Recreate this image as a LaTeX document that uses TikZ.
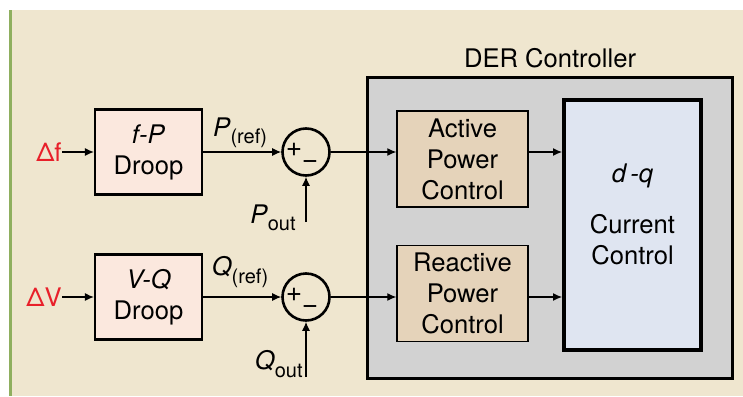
\documentclass[tikz,border=0pt]{standalone}
\usepackage{fontspec}
\setmainfont{TeX Gyre Heros}
\usepackage{xcolor}
\usetikzlibrary{arrows.meta}
\definecolor{PanelBeige}{HTML}{EFE6CF}
\definecolor{PanelGreen}{HTML}{8FAF5F}
\definecolor{DroopPink}{HTML}{FBE8DE}
\definecolor{CtrlGray}{HTML}{D2D2D2}
\definecolor{PowerTan}{HTML}{E5D3BA}
\definecolor{CurrentBlue}{HTML}{DFE5F1}
\definecolor{SignalRed}{HTML}{E8202A}
\newcommand{\sigsub}[2]{\textit{#1}\raisebox{-0.55ex}{\fontsize{10}{12}\selectfont #2}}

\begin{document}
\begin{tikzpicture}[x=0.5pt,y=-0.5pt,
    every node/.style={font=\fontsize{12.8}{15.5}\selectfont,align=center,inner sep=0pt},
    droopbox/.style={draw,line width=1.1pt,fill=DroopPink,minimum width=53.5pt,minimum height=42.5pt},
    powerbox/.style={draw,line width=0.7pt,fill=PowerTan,minimum width=65.5pt,minimum height=48pt},
    sumjunction/.style={draw,circle,line width=1.3pt,minimum size=23.5pt},
    signsym/.style={font=\fontsize{14}{15}\selectfont},
    signal/.style={-{Latex[length=4.5pt,width=4pt]},line width=0.6pt}]

    \useasboundingbox (0,0) rectangle (743,396);
    \fill[PanelBeige] (10,10) rectangle (743,396);
    \draw[PanelGreen,line width=1.5pt] (10,10) -- (10,396);

    \node[draw,line width=1.5pt,fill=CtrlGray,minimum width=182.5pt,minimum height=150.5pt] (der) at (549.5,227.5) {};
    \node (dertitle) at (550,58) {DER Controller};

    \node[droopbox] (fp) at (148.5,152) {\textit{f-P}\\Droop};
    \node[droopbox] (vq) at (148.5,297) {\textit{V-Q}\\Droop};

    \node[text=SignalRed,anchor=east] (df) at (62,152) {Δf};
    \node[text=SignalRed,anchor=east] (dv) at (62,297) {ΔV};

    \node[sumjunction] (sp) at (306,152) {};
    \node[sumjunction] (sq) at (306,297) {};
    \node[signsym] (spplus) at (294,150) {+};
    \node[signsym] (spminus) at (310,165) {−};
    \node[signsym] (sqplus) at (294,295) {+};
    \node[signsym] (sqminus) at (310,310) {−};

    \node (pref) at (240,133) {\sigsub{P}{(ref)}};
    \node (qref) at (240,272) {\sigsub{Q}{(ref)}};
    \coordinate (pout) at (306,222);
    \coordinate (qout) at (306,377);
    \node[anchor=east] (poutlabel) at (296,218) {\sigsub{P}{out}};
    \node[anchor=east] (qoutlabel) at (303,364) {\sigsub{Q}{out}};

    \node[powerbox] (apc) at (462.5,159) {Active\\Power\\Control};
    \node[powerbox] (rpc) at (462.5,293.5) {Reactive\\Power\\Control};
    \node[draw,line width=2pt,fill=CurrentBlue,minimum width=68.5pt,minimum height=125pt] (dq) at (632.5,225) {};
    \node (dqlabel) at (632.5,176) {\textit{d\,-q}};
    \node (cclabel) at (632.5,240) {Current\\Control};

    \draw[signal] (df) -- (fp);
    \draw[signal] (dv) -- (vq);
    \draw[signal] (fp) -- (sp);
    \draw[signal] (vq) -- (sq);
    \draw[signal] (pout) -- (sp);
    \draw[signal] (qout) -- (sq);
    \draw[signal] (sp) -- (apc.west |- sp);
    \draw[signal] (sq) -- (rpc.west |- sq);
    \draw[signal] (apc.east |- sp) -- (dq.west |- sp);
    \draw[signal] (rpc.east |- sq) -- (dq.west |- sq);
\end{tikzpicture}
\end{document}
